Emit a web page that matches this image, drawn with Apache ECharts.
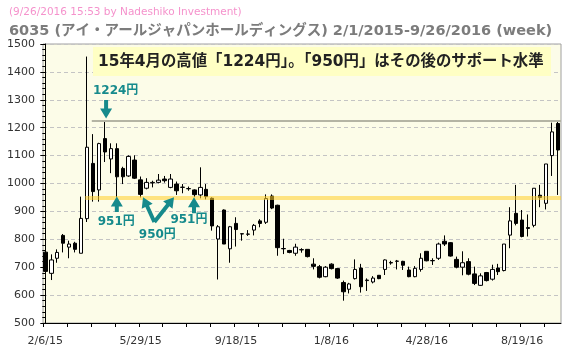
<!DOCTYPE html>
<html><head><meta charset="utf-8">
<script src="https://cdn.jsdelivr.net/npm/echarts@6/dist/echarts.min.js"></script>
<style>html,body{margin:0;padding:0;background:#fff}#c{width:566px;height:354px}</style>
</head><body><div id="c"></div>
<script>
// ---- data (weekly, index 0 = week of 2/6/15 ... index 86 = week of 9/26/16)
const tickLabels = ['2/6/15','5/29/15','9/18/15','1/8/16','4/28/16','8/19/16'];
const tickIdx = [0,16,32,48,64,80];
const opens  = [754,678,732,814,772,786,750,874,1072,977,1161,1088,1125,1054,1027,1084,1013,983,1002,1004,1016,986,998,986,981,977,959,979,947,801,905,766,857,820,818,833,866,861,955,922,767,760,750,762,764,711,702,666,711,695,645,621,659,697,652,647,671,692,715,721,721,690,666,692,757,723,732,793,788,728,700,720,676,635,681,657,697,688,815,893,869,842,850,958,929,1100,1215];
const closes = [685,726,753,786,783,764,875,1130,971,1143,1113,1125,1024,1024,1097,1019,961,1004,1004,1012,1010,1016,974,987,982,960,986,953,848,845,783,845,835,819,819,850,857,946,912,770,766,753,772,763,738,703,664,700,695,661,612,640,692,630,654,661,659,726,717,722,707,666,696,732,723,724,783,783,740,700,716,675,642,669,652,692,684,783,866,857,810,839,983,950,1070,1185,1120];
const lows   = [633,654,716,753,732,753,750,862,935,935,1077,1037,951,998,1024,1016,950,979,986,1001,1003,983,959,965,974,951,947,943,831,656,783,716,774,795,812,814,843,855,908,741,747,750,741,752,735,692,660,664,692,658,580,606,656,609,615,642,657,672,709,692,690,664,664,684,721,708,726,776,738,696,671,671,636,633,649,652,672,685,768,850,807,810,843,915,907,1027,959];
const highs  = [800,746,764,819,795,791,953,1455,1177,1146,1224,1144,1144,1060,1101,1101,1025,1019,1010,1034,1027,1034,1007,998,989,979,1058,998,950,851,907,848,879,821,833,855,872,961,961,924,802,762,784,768,765,732,708,704,714,697,652,644,728,712,660,668,672,728,723,726,723,702,704,750,757,732,788,814,790,738,757,732,702,678,683,709,712,783,915,995,905,889,983,995,1070,1218,1225];
const highLevel = 1224;
const supportLevel = 950;
const boxText = '15年4月の高値「1224円」。「950円」はその後のサポート水準';
// annotation anchors in data coordinates [index, price]
const noteTexts = [['1224円',11.8,1333],['951円',11.9,863],['950円',18.8,815],['951円',24.1,869]];
const noteArrows = [[10.2,1299,10.2,1233],[12.0,898,12.0,953],[18.3,862,16.4,951],[18.3,862,21.6,951],[24.95,893,24.95,951]];

const xMin = -0.386, xMax = 86.53;
const data = opens.map((o,i)=>[i,o,closes[i],lows[i],highs[i]]);
const tickVals = []; for (let i=0;i<=84;i+=4) tickVals.push(i-0.3);

const chart = echarts.init(document.getElementById('c'), null, {renderer:'canvas'});
const TEAL = '#168a8c';
chart.setOption({
  animation:false,
  backgroundColor:'#fff',
  title:[
    {text:'(9/26/2016 15:53 by Nadeshiko Investment)', left:4, top:4, padding:[3,5],
     textStyle:{color:'#f592cc', fontSize:10.5, fontWeight:'normal', fontFamily:'DejaVu Sans'}},
    {text:'6035 (アイ・アールジャパンホールディングス) 2/1/2015-9/26/2016 (week)', left:4, top:21, padding:[3,5],
     textStyle:{color:'#7c7c7c', fontSize:14.5, fontWeight:'bold', fontFamily:'DejaVu Sans, "Noto Sans CJK JP"'}}
  ],
  grid:{left:43, right:5, top:44, bottom:31, show:true, backgroundColor:'#fcfce8', borderColor:'#a0a0a0', borderWidth:1},
  xAxis:{type:'value', min:xMin, max:xMax,
    axisLine:{show:true, onZero:false, lineStyle:{color:'#000'}},
    splitLine:{show:false},
    axisTick:{show:true, customValues:tickVals, length:4, lineStyle:{color:'#000'}},
    axisLabel:{customValues:tickIdx, formatter:v=>tickLabels[tickIdx.indexOf(Math.round(v))]||'',
      color:'#333', fontSize:11, fontFamily:'DejaVu Sans', margin:13}},
  yAxis:{type:'value', min:500, max:1500, interval:100,
    axisLine:{show:true, lineStyle:{color:'#000'}},
    axisTick:{show:true, length:5, lineStyle:{color:'#000'}},
    minorTick:{show:true, splitNumber:5, length:3, lineStyle:{color:'#000'}},
    splitLine:{show:true, lineStyle:{color:'#c4c4c4', type:[4,3]}},
    axisLabel:{color:'#333', fontSize:11, fontFamily:'DejaVu Sans', margin:8, formatter:v=>String(v)}},
  series:[{type:'candlestick', data, encode:{x:0, y:[1,2,3,4]}, barWidth:4,
    itemStyle:{color:'#fff', color0:'#000', borderColor:'#000', borderColor0:'#000', borderWidth:1},
    markLine:{symbol:'none', silent:true, animation:false, label:{show:false},
      data:[
        [{coord:[7.8,highLevel], lineStyle:{color:'#b4b4a4', width:2, type:'solid'}},{coord:[xMax,highLevel], lineStyle:{color:'#b4b4a4', width:2, type:'solid'}}],
        [{coord:[6.7,supportLevel], lineStyle:{color:'rgba(255,205,40,0.55)', width:4, type:'solid'}},{coord:[xMax,supportLevel], lineStyle:{color:'rgba(255,205,40,0.55)', width:4, type:'solid'}}]
      ]}
  }]
});

function px(x,y){ return chart.convertToPixel({gridIndex:0},[x,y]); }
function arrowPts(x1,y1,x2,y2){
  const sw=4, hw=12, hl=10;
  const dx=x2-x1, dy=y2-y1, L=Math.hypot(dx,dy), ux=dx/L, uy=dy/L, nx=-uy, ny=ux;
  const bx=x2-ux*hl, by=y2-uy*hl;
  return [[x1+nx*sw/2,y1+ny*sw/2],[bx+nx*sw/2,by+ny*sw/2],[bx+nx*hw/2,by+ny*hw/2],[x2,y2],
          [bx-nx*hw/2,by-ny*hw/2],[bx-nx*sw/2,by-ny*sw/2],[x1-nx*sw/2,y1-ny*sw/2]];
}
const g = [];
const b1 = px(8.0,1489), b2 = px(84.85,1385);
g.push({type:'rect', z:10, shape:{x:b1[0], y:b1[1], width:b2[0]-b1[0], height:b2[1]-b1[1]}, style:{fill:'#ffffc4'}});
g.push({type:'text', z:11, x:b1[0]+5, y:(b1[1]+b2[1])/2, style:{text:boxText, fill:'#222', font:'bold 15.4px "DejaVu Sans", "Noto Sans CJK JP"', verticalAlign:'middle', align:'left'}});
noteTexts.forEach(t=>{ const p=px(t[1],t[2]);
  g.push({type:'text', z:11, x:p[0], y:p[1], style:{text:t[0], fill:TEAL, font:'bold 12px "DejaVu Sans", "Noto Sans CJK JP"', align:'center', verticalAlign:'middle'}}); });
noteArrows.forEach(a=>{ const p1=px(a[0],a[1]), p2=px(a[2],a[3]);
  g.push({type:'polygon', z:11, shape:{points:arrowPts(p1[0],p1[1],p2[0],p2[1])}, style:{fill:TEAL}}); });
chart.setOption({graphic:g});
</script></body></html>
